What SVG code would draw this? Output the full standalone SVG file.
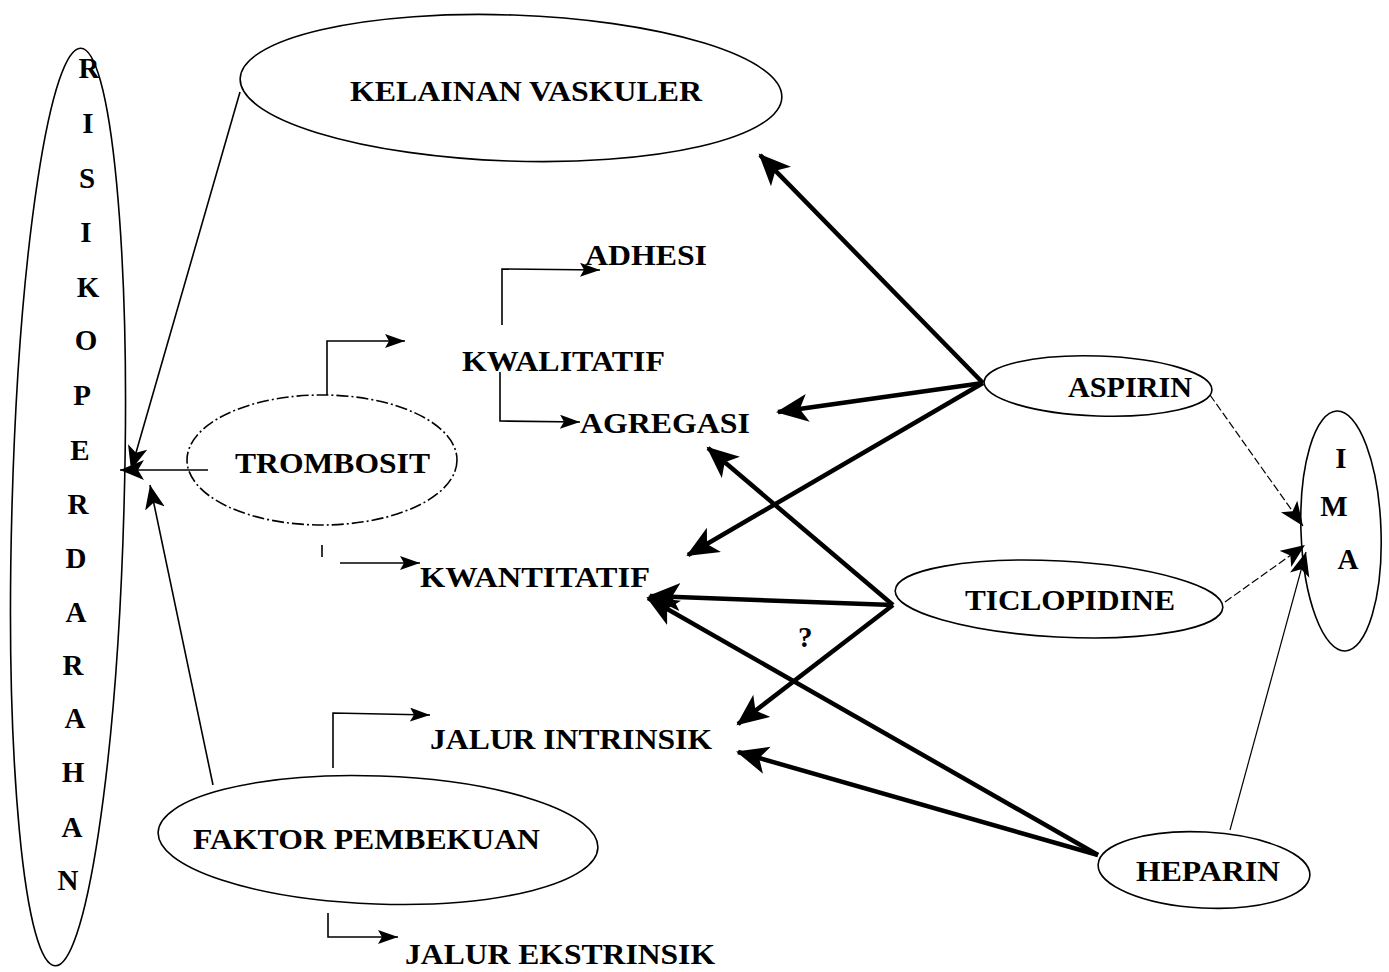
<svg xmlns="http://www.w3.org/2000/svg" width="1389" height="972" viewBox="0 0 1389 972">
<style>
.t{font-family:"Liberation Serif","Times New Roman",serif;font-weight:bold;fill:#000;font-size:29px}
.e{fill:none;stroke:#000;stroke-width:1.6}
.thick{stroke:#000;stroke-width:4.5;fill:none}
.thin{stroke:#000;stroke-width:1.6;fill:none}
.hair{stroke:#000;stroke-width:1.2;fill:none}
</style>
<defs>
<marker id="big" markerUnits="userSpaceOnUse" markerWidth="34" markerHeight="30" refX="30" refY="14" orient="auto"><path d="M0,0 L32,14 L0,28 L8,14 Z" fill="#000"/></marker>
<marker id="sm" markerUnits="userSpaceOnUse" markerWidth="22" markerHeight="16" refX="20" refY="7" orient="auto"><path d="M0,0 L20,7 L0,14 L4,7 Z" fill="#000"/></marker>
<marker id="md" markerUnits="userSpaceOnUse" markerWidth="26" markerHeight="22" refX="24" refY="10" orient="auto"><path d="M0,0 L24,10 L0,20 L6,10 Z" fill="#000"/></marker>
</defs>
<rect width="1389" height="972" fill="#fff"/>

<g id="risiko">
<ellipse class="e" cx="68" cy="507" rx="56" ry="459" transform="rotate(1.6 68 507)"/>
<g class="t" font-size="25" text-anchor="middle">
<text x="89" y="78">R</text><text x="88" y="133">I</text><text x="87" y="188">S</text><text x="86" y="242">I</text>
<text x="88" y="297">K</text><text x="86" y="350">O</text><text x="82" y="405">P</text><text x="80" y="460">E</text>
<text x="78" y="514">R</text><text x="76" y="568">D</text><text x="76" y="622">A</text><text x="73" y="675">R</text>
<text x="75" y="728">A</text><text x="73" y="782">H</text><text x="72" y="837">A</text><text x="68" y="890">N</text>
</g>
</g>

<g id="kelainan">
<ellipse class="e" cx="511" cy="88" rx="271" ry="73" transform="rotate(2 511 88)"/>
<text class="t" x="350" y="101" font-size="31" textLength="352" lengthAdjust="spacingAndGlyphs">KELAINAN VASKULER</text>
</g>

<g id="trombosit">
<ellipse class="e" cx="322" cy="460" rx="135" ry="65" stroke-dasharray="12 3 2 3"/>
<text class="t" x="235" y="473" textLength="195" lengthAdjust="spacingAndGlyphs">TROMBOSIT</text>
</g>

<g id="kwalitatif"><text class="t" x="462" y="371" textLength="203" lengthAdjust="spacingAndGlyphs">KWALITATIF</text></g>
<g id="adhesi"><text class="t" x="585" y="265" textLength="122" lengthAdjust="spacingAndGlyphs">ADHESI</text></g>
<g id="agregasi"><text class="t" x="580" y="433" textLength="170" lengthAdjust="spacingAndGlyphs">AGREGASI</text></g>
<g id="kwantitatif"><text class="t" x="420" y="587" textLength="230" lengthAdjust="spacingAndGlyphs">KWANTITATIF</text></g>
<g id="intrinsik"><text class="t" x="430" y="749" textLength="282" lengthAdjust="spacingAndGlyphs">JALUR INTRINSIK</text></g>
<g id="ekstrinsik"><text class="t" x="405" y="964" textLength="310" lengthAdjust="spacingAndGlyphs">JALUR EKSTRINSIK</text></g>

<g id="faktor">
<ellipse class="e" cx="378" cy="840" rx="220" ry="64" transform="rotate(2 378 840)"/>
<text class="t" x="193" y="849" textLength="347" lengthAdjust="spacingAndGlyphs">FAKTOR PEMBEKUAN</text>
</g>

<g id="aspirin">
<ellipse class="e" cx="1098" cy="386" rx="114" ry="30" transform="rotate(2 1098 386)"/>
<text class="t" x="1068" y="397" font-size="27" textLength="124" lengthAdjust="spacingAndGlyphs">ASPIRIN</text>
</g>

<g id="ticlopidine">
<ellipse class="e" cx="1059" cy="599" rx="164" ry="38" transform="rotate(3 1059 599)"/>
<text class="t" x="965" y="610" font-size="27" textLength="210" lengthAdjust="spacingAndGlyphs">TICLOPIDINE</text>
</g>

<g id="heparin">
<ellipse class="e" cx="1204" cy="870" rx="106" ry="38" transform="rotate(3 1204 870)"/>
<text class="t" x="1136" y="881" font-size="27" textLength="144" lengthAdjust="spacingAndGlyphs">HEPARIN</text>
</g>

<g id="ima">
<ellipse class="e" cx="1341" cy="531" rx="40" ry="120" transform="rotate(-2 1341 531)"/>
<text class="t" x="1341" y="468" font-size="25" text-anchor="middle">I</text>
<text class="t" x="1334" y="516" font-size="25" text-anchor="middle">M</text>
<text class="t" x="1348" y="569" font-size="25" text-anchor="middle">A</text>
</g>

<g id="connectors">
<path class="thin" d="M240,92 L131,470" marker-end="url(#md)"/>
<path class="thin" d="M208,470 L120,470" marker-end="url(#md)"/>
<path class="thin" d="M213,785 L150,485" marker-end="url(#md)"/>

<path class="thin" d="M327,395 L327,341 L405,341" marker-end="url(#sm)"/>
<path class="thin" d="M502,325 L502,269 L600,270" marker-end="url(#sm)"/>
<path class="thin" d="M500,372 L500,421 L580,422" marker-end="url(#sm)"/>
<path class="thin" d="M322,545 L322,557"/>
<path class="thin" d="M340,563 L420,563" marker-end="url(#sm)"/>
<path class="thin" d="M333,768 L333,713 L430,715" marker-end="url(#sm)"/>
<path class="thin" d="M328,913 L328,937 L398,937" marker-end="url(#sm)"/>

<path class="thick" d="M983,383 L760,155" marker-end="url(#big)"/>
<path class="thick" d="M983,383 L778,412" marker-end="url(#big)"/>
<path class="thick" d="M983,383 L688,555" marker-end="url(#big)"/>
<path class="thick" d="M893,605 L708,448" marker-end="url(#big)"/>
<path class="thick" d="M893,605 L650,596" marker-end="url(#big)"/>
<path class="thick" d="M893,605 L738,724" marker-end="url(#big)"/>
<path class="thick" d="M1098,855 L648,598" marker-end="url(#big)"/>
<path class="thick" d="M1098,855 L738,752" marker-end="url(#big)"/>

<path class="hair" d="M1210,395 L1303,526" stroke-dasharray="8 3" marker-end="url(#md)"/>
<path class="hair" d="M1225,602 L1305,545" stroke-dasharray="8 3" marker-end="url(#md)"/>
<path class="hair" d="M1230,830 L1306,552" marker-end="url(#md)"/>
</g>
<text class="t" x="798" y="647" font-size="20">?</text>
</svg>
